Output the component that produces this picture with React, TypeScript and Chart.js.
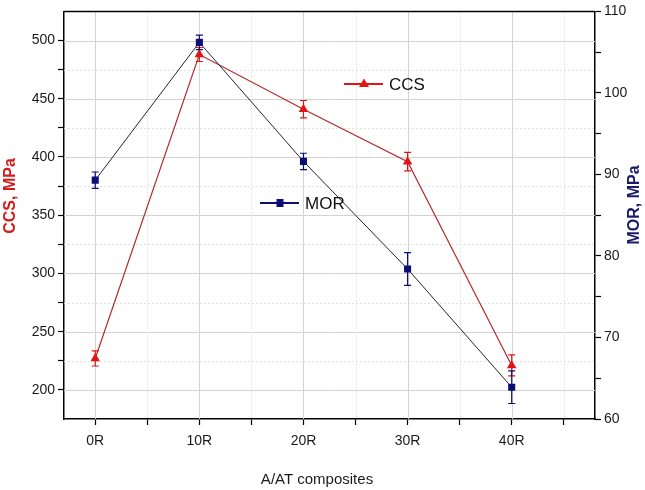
import React, { useEffect, useRef } from "react";
import { Chart, registerables } from "chart.js";

Chart.register(...registerables);

const categories = ["0R", "10R", "20R", "30R", "40R"];
const xPositions = [0, 10, 20, 30, 40];
const ccsValues = [227, 488, 441, 396, 221];
const ccsErrors = [6.5, 6, 7.5, 8, 9];
const morValues = [89.3, 106.2, 91.6, 78.4, 63.9];
const morErrors = [1, 0.9, 1, 2, 2];

const xTicks = [0, 5, 10, 15, 20, 25, 30, 35, 40, 45];
const leftTicks = [200, 225, 250, 275, 300, 325, 350, 375, 400, 425, 450, 475, 500];
const rightTicks = [60, 65, 70, 75, 80, 85, 90, 95, 100, 105, 110];

const RED = "#e01515";
const RED_LINE = "#b52a2a";
const NAVY = "#0d0d78";
const NAVY_LINE = "#22223a";
const FONT = "'Liberation Sans', Arial, sans-serif";

const decorPlugin = {
  id: "decor",
  beforeDatasetsDraw(chart: any) {
    const { ctx, chartArea } = chart;
    const x = chart.scales.x;
    const y = chart.scales.y;
    const { left, right, top, bottom } = chartArea;
    ctx.save();
    ctx.lineWidth = 1;
    leftTicks.forEach((v) => {
      const py = Math.round(y.getPixelForValue(v)) + 0.5;
      const major = v % 50 === 0;
      ctx.strokeStyle = major ? "#d3d3d3" : "#e2e2e2";
      ctx.setLineDash(major ? [] : [2, 2]);
      ctx.beginPath();
      ctx.moveTo(left, py);
      ctx.lineTo(right, py);
      ctx.stroke();
    });
    xTicks.forEach((v) => {
      const px = Math.round(x.getPixelForValue(v)) + 0.5;
      const major = v % 10 === 0;
      ctx.strokeStyle = major ? "#d3d3d3" : "#e2e2e2";
      ctx.setLineDash(major ? [] : [2, 2]);
      ctx.beginPath();
      ctx.moveTo(px, top);
      ctx.lineTo(px, bottom);
      ctx.stroke();
    });
    ctx.setLineDash([]);
    ctx.restore();
  },
  afterDatasetsDraw(chart: any) {
    const { ctx, chartArea } = chart;
    const x = chart.scales.x;
    const y = chart.scales.y;
    const yR = chart.scales.yR;
    ctx.save();
    const drawErr = (vals: number[], errs: number[], scale: any, color: string) => {
      ctx.strokeStyle = color;
      ctx.lineWidth = 1.2;
      vals.forEach((v, i) => {
        const px = x.getPixelForValue(xPositions[i]);
        const y1 = scale.getPixelForValue(v + errs[i]);
        const y2 = scale.getPixelForValue(v - errs[i]);
        ctx.beginPath();
        ctx.moveTo(px, y1);
        ctx.lineTo(px, y2);
        ctx.moveTo(px - 3.5, y1);
        ctx.lineTo(px + 3.5, y1);
        ctx.moveTo(px - 3.5, y2);
        ctx.lineTo(px + 3.5, y2);
        ctx.stroke();
      });
    };
    drawErr(ccsValues, ccsErrors, y, RED);
    drawErr(morValues, morErrors, yR, NAVY);

    ctx.strokeStyle = "#000";
    ctx.lineWidth = 1.5;
    ctx.beginPath();
    ctx.moveTo(chartArea.left, chartArea.top);
    ctx.lineTo(chartArea.right, chartArea.top);
    ctx.stroke();

    const legend = (lx: number, ly: number, label: string, lineColor: string, color: string, shape: string) => {
      ctx.strokeStyle = lineColor;
      ctx.lineWidth = 2;
      ctx.beginPath();
      ctx.moveTo(lx, ly);
      ctx.lineTo(lx + 39, ly);
      ctx.stroke();
      ctx.fillStyle = color;
      const cx = lx + 20;
      if (shape === "triangle") {
        ctx.beginPath();
        ctx.moveTo(cx, ly - 5.5);
        ctx.lineTo(cx + 5, ly + 3);
        ctx.lineTo(cx - 5, ly + 3);
        ctx.closePath();
        ctx.fill();
      } else {
        ctx.fillRect(cx - 3.5, ly - 4, 7, 8);
      }
      ctx.fillStyle = "#111";
      ctx.font = `17px ${FONT}`;
      ctx.textBaseline = "middle";
      ctx.textAlign = "left";
      ctx.fillText(label, lx + 45, ly + 1);
    };
    legend(344, 84, "CCS", RED, RED, "triangle");
    legend(260, 203, "MOR", NAVY, NAVY, "square");

    ctx.textAlign = "center";
    ctx.textBaseline = "middle";
    ctx.font = `bold 16px ${FONT}`;
    ctx.fillStyle = "#d41c1c";
    ctx.save();
    ctx.translate(11, 196);
    ctx.rotate(-Math.PI / 2);
    ctx.fillText("CCS, MPa", 0, 0);
    ctx.restore();
    ctx.fillStyle = "#1a1a6a";
    ctx.save();
    ctx.translate(635, 205);
    ctx.rotate(-Math.PI / 2);
    ctx.fillText("MOR, MPa", 0, 0);
    ctx.restore();
    ctx.fillStyle = "#1a1a1a";
    ctx.font = `15px ${FONT}`;
    ctx.fillText("A/AT composites", 317, 480);
    ctx.restore();
  },
};

export default function App() {
  const canvasRef = useRef<HTMLCanvasElement | null>(null);

  useEffect(() => {
    if (!canvasRef.current) return;
    const tickFont = { family: FONT, size: 14 };
    const chart = new Chart(canvasRef.current, {
      type: "line",
      data: {
        datasets: [
          {
            label: "CCS",
            data: ccsValues.map((v, i) => ({ x: xPositions[i], y: v })),
            yAxisID: "y",
            borderColor: RED_LINE,
            borderWidth: 1.2,
            pointStyle: "triangle",
            pointRadius: 5.5,
            pointBackgroundColor: RED,
            pointBorderColor: RED,
            pointBorderWidth: 0,
            order: 2,
          },
          {
            label: "MOR",
            data: morValues.map((v, i) => ({ x: xPositions[i], y: v })),
            yAxisID: "yR",
            borderColor: NAVY_LINE,
            borderWidth: 1,
            pointStyle: "rect",
            pointRadius: 5,
            pointBackgroundColor: NAVY,
            pointBorderColor: NAVY,
            pointBorderWidth: 0,
            order: 1,
          },
        ],
      },
      options: {
        responsive: false,
        animation: false,
        layout: { padding: { top: 9, left: 0, right: 0, bottom: 0 } },
        plugins: { legend: { display: false }, tooltip: { enabled: false } },
        scales: {
          x: {
            type: "linear",
            min: -3,
            max: 48,
            afterBuildTicks: (s: any) => {
              s.ticks = xTicks.map((v) => ({ value: v }));
            },
            afterFit: (s: any) => {
              s.height = 71;
            },
            ticks: {
              autoSkip: false,
              maxRotation: 0,
              padding: 8,
              color: "#1a1a1a",
              font: tickFont,
              callback: (v: any) => {
                const idx = xPositions.indexOf(Number(v));
                return idx >= 0 ? categories[idx] : "";
              },
            },
            grid: { drawOnChartArea: false, drawTicks: true, tickLength: 6, tickColor: "#000", tickWidth: 1.2 },
            border: { display: true, color: "#000", width: 1.5 },
          },
          y: {
            type: "linear",
            position: "left",
            min: 175,
            max: 525,
            afterBuildTicks: (s: any) => {
              s.ticks = leftTicks.map((v) => ({ value: v }));
            },
            afterFit: (s: any) => {
              s.width = 64;
            },
            ticks: {
              autoSkip: false,
              padding: 3,
              color: "#1a1a1a",
              font: tickFont,
              callback: (v: any) => (Number(v) % 50 === 0 ? String(v) : ""),
            },
            grid: { drawOnChartArea: false, drawTicks: true, tickLength: 6, tickColor: "#000", tickWidth: 1.2 },
            border: { display: true, color: "#000", width: 1.5 },
          },
          yR: {
            type: "linear",
            position: "right",
            min: 60,
            max: 110,
            afterBuildTicks: (s: any) => {
              s.ticks = rightTicks.map((v) => ({ value: v }));
            },
            afterFit: (s: any) => {
              s.width = 50;
            },
            ticks: {
              autoSkip: false,
              padding: 3,
              color: "#1a1a1a",
              font: tickFont,
              callback: (v: any) => (Number(v) % 10 === 0 ? String(v) : ""),
            },
            grid: { drawOnChartArea: false, drawTicks: true, tickLength: 6, tickColor: "#000", tickWidth: 1.2 },
            border: { display: true, color: "#000", width: 1.5 },
          },
        },
      },
      plugins: [decorPlugin],
    } as any);
    return () => chart.destroy();
  }, []);

  return (
    <div style={{ position: "absolute", left: 0, top: 0, width: 645, height: 490, background: "#fff" }}>
      <canvas ref={canvasRef} width={645} height={490} style={{ display: "block" }} />
    </div>
  );
}
